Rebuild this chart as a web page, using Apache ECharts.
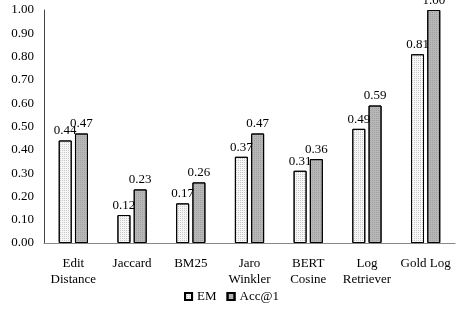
<!DOCTYPE html>
<html><head><meta charset="utf-8">
<script src="https://cdn.jsdelivr.net/npm/echarts@6/dist/echarts.min.js"></script>
<style>html,body{margin:0;padding:0;background:#fff}#c{width:463px;height:312px}</style>
</head><body><div id="c"></div>
<script>
const categories = ['Edit\nDistance', 'Jaccard', 'BM25', 'Jaro\nWinkler', 'BERT\nCosine', 'Log\nRetriever', 'Gold Log'];
const emValues = [0.44, 0.12, 0.17, 0.37, 0.31, 0.49, 0.81];
const accValues = [0.47, 0.23, 0.26, 0.47, 0.36, 0.59, 1.00];
const seriesNames = ['EM', 'Acc@1'];

const font = 'Liberation Serif, Times New Roman, serif';
const chart = echarts.init(document.getElementById('c'), null, {renderer: 'canvas'});
const lbl = {show: true, position: 'top', distance: 3, color: '#000', fontFamily: font, fontSize: 13, formatter: p => p.value.toFixed(2)};
chart.setOption({
  animation: false,
  grid: {left: 44, right: 8, top: 10, bottom: 69, containLabel: false},
  legend: {
    bottom: 4, left: 'center', itemWidth: 7, itemHeight: 7, itemGap: 10,
    textStyle: {fontFamily: font, fontSize: 13, color: '#000'},
    data: seriesNames.map(n => ({name: n, icon: 'rect'}))
  },
  xAxis: {
    type: 'category', data: categories,
    axisLine: {lineStyle: {color: '#888', width: 1}},
    axisTick: {show: false},
    axisLabel: {fontFamily: font, fontSize: 13, color: '#000', margin: 13, lineHeight: 16, interval: 0}
  },
  yAxis: {
    type: 'value', min: 0, max: 1, interval: 0.1,
    axisLine: {show: true, lineStyle: {color: '#444', width: 1}},
    axisTick: {show: false},
    splitLine: {show: false},
    axisLabel: {fontFamily: font, fontSize: 13, color: '#000', margin: 10, formatter: v => v.toFixed(2)}
  },
  series: [
    {name: seriesNames[0], type: 'bar', data: emValues, barWidth: 13, barGap: '25%',
     itemStyle: {color: '#f6f6f6', borderColor: '#000', borderWidth: 1,
       decal: {symbol: 'rect', symbolSize: 1, color: 'rgba(0,0,0,0.18)', dashArrayX: [1, 1], dashArrayY: [1, 1], rotation: 0}},
     label: lbl},
    {name: seriesNames[1], type: 'bar', data: accValues, barWidth: 13,
     itemStyle: {color: '#b7b7b7', borderColor: '#000', borderWidth: 1,
       decal: {symbol: 'rect', symbolSize: 1, color: 'rgba(0,0,0,0.12)', dashArrayX: [1, 1], dashArrayY: [1, 1], rotation: 0}},
     label: lbl}
  ]
});
</script></body></html>
